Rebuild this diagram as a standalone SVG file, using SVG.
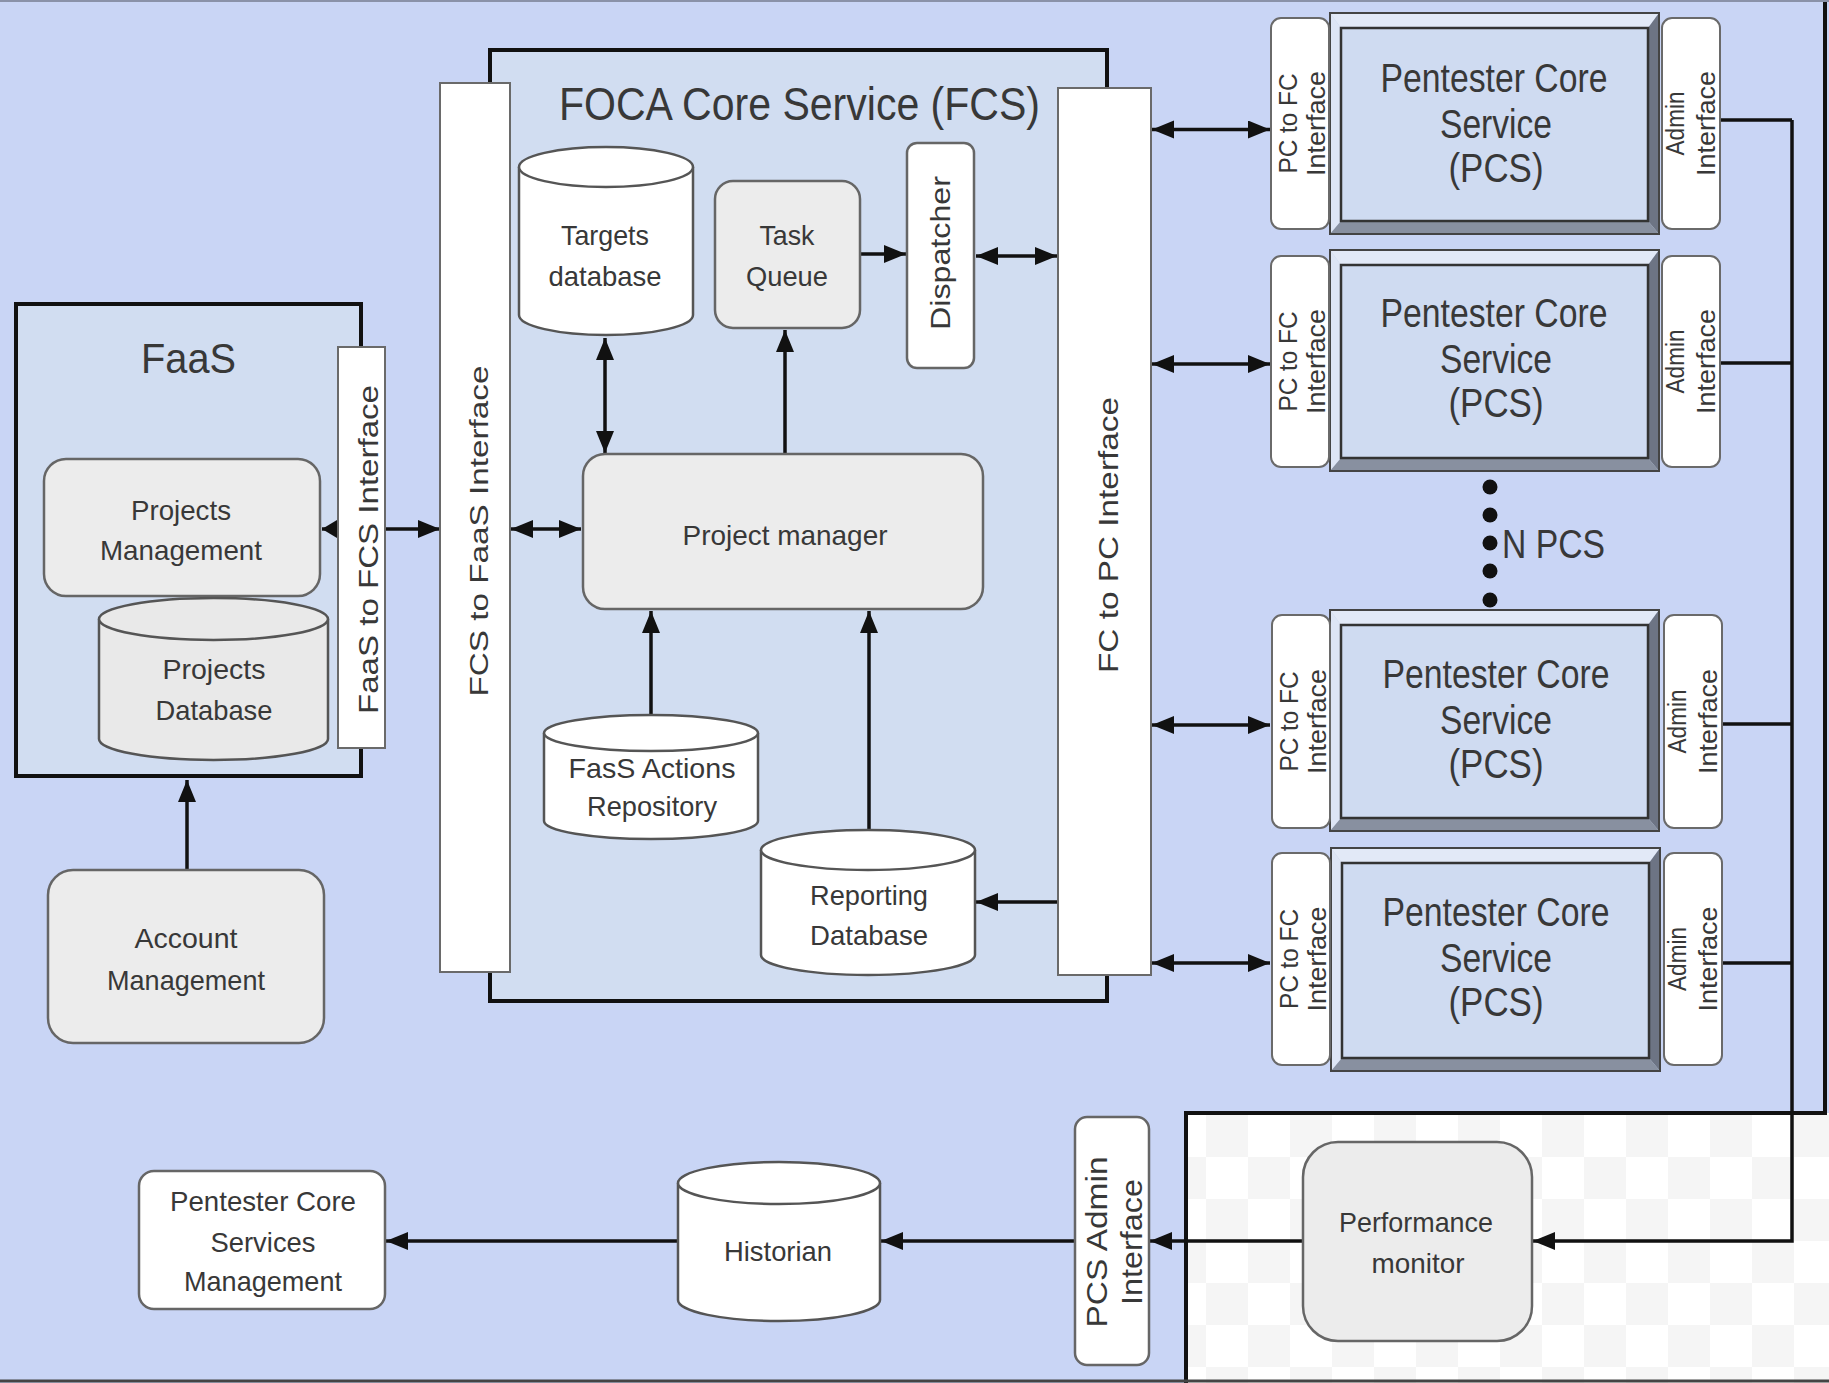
<svg xmlns="http://www.w3.org/2000/svg" width="1829" height="1383" viewBox="0 0 1829 1383">
<style>
text{font-family:"Liberation Sans",Arial,sans-serif;fill:#383838}
.t28{font-size:28px}
.tb{font-size:40px}
.ti{font-size:25px}
.ifc{fill:#fff;stroke:#6a6a6a;stroke-width:2}
.gbox{fill:#ececec;stroke:#666;stroke-width:2.5}
.wbox{fill:#fff;stroke:#666;stroke-width:2.5}
.cyl{stroke:#555;stroke-width:2.5}
.cont{fill:#d1ddf1;stroke:#111;stroke-width:4}
.ln{fill:none;stroke:#111;stroke-width:3.5}
.fr{fill:#c4d1ea;stroke:#444;stroke-width:2}
.inr{fill:#cfdbf1;stroke:#333;stroke-width:2.5}
</style>
<defs>
<marker id="ah" markerUnits="userSpaceOnUse" markerWidth="24" markerHeight="20" refX="22" refY="9" orient="auto-start-reverse" viewBox="0 0 24 20">
<path d="M0,0 L22,9 L0,18 z" fill="#111"/>
</marker>
<marker id="ahs" markerUnits="userSpaceOnUse" markerWidth="18" markerHeight="20" refX="15" refY="9" orient="auto" viewBox="0 0 18 20">
<path d="M0,0 L15,9 L0,18 z" fill="#111"/>
</marker>
<pattern id="chk" patternUnits="userSpaceOnUse" x="1206" y="1115" width="84" height="84">
<rect width="84" height="84" fill="#ffffff"/>
<rect width="42" height="42" fill="#f5f5f5"/>
<rect x="42" y="42" width="42" height="42" fill="#f5f5f5"/>
</pattern>
</defs>

<!-- background -->
<rect x="0" y="0" width="1829" height="1383" fill="#c9d5f5"/>
<rect x="1186" y="1113" width="643" height="270" fill="url(#chk)"/>
<path d="M1186,1383 V1113 H1825 V0" fill="none" stroke="#111" stroke-width="4"/>
<line x1="0" y1="1" x2="1829" y2="1" stroke="#8a92a8" stroke-width="2"/>
<line x1="0" y1="1381" x2="1829" y2="1381" stroke="#444" stroke-width="3"/>

<!-- containers -->
<g id="fcs">
<rect class="cont" x="490" y="50" width="617" height="951"/>
<text x="799.5" y="120" style="font-size:46px" text-anchor="middle" textLength="481" lengthAdjust="spacingAndGlyphs">FOCA Core Service (FCS)</text>
</g>
<g id="faas">
<rect class="cont" x="16" y="304" width="345" height="472"/>
<text x="188.5" y="373" style="font-size:43px" text-anchor="middle" textLength="95" lengthAdjust="spacingAndGlyphs">FaaS</text>
</g>

<!-- connectors -->
<g id="connectors">
<path class="ln" d="M187,869 V780" marker-end="url(#ah)"/>
<path class="ln" d="M385,529 H440" marker-end="url(#ah)"/>
<path class="ln" d="M339,529 H322" marker-end="url(#ahs)"/>
<path class="ln" d="M511,529 H581" marker-start="url(#ah)" marker-end="url(#ah)"/>
<path class="ln" d="M605,338 V453" marker-start="url(#ah)" marker-end="url(#ah)"/>
<path class="ln" d="M785,454 V330" marker-end="url(#ah)"/>
<path class="ln" d="M860,254 H906" marker-end="url(#ah)"/>
<path class="ln" d="M976,256 H1057" marker-start="url(#ah)" marker-end="url(#ah)"/>
<path class="ln" d="M651,715 V611" marker-end="url(#ah)"/>
<path class="ln" d="M869,830 V611" marker-end="url(#ah)"/>
<path class="ln" d="M1057,902 H976" marker-end="url(#ah)"/>
<path class="ln" d="M1152,129.5 H1270" marker-start="url(#ah)" marker-end="url(#ah)"/>
<path class="ln" d="M1152,364 H1270" marker-start="url(#ah)" marker-end="url(#ah)"/>
<path class="ln" d="M1152,725 H1270" marker-start="url(#ah)" marker-end="url(#ah)"/>
<path class="ln" d="M1152,963 H1270" marker-start="url(#ah)" marker-end="url(#ah)"/>
<path class="ln" d="M1720,120 H1792"/>
<path class="ln" d="M1720,363 H1792"/>
<path class="ln" d="M1720,724 H1792"/>
<path class="ln" d="M1720,963 H1792"/>
<path class="ln" d="M1792,120 V1241 H1533" marker-end="url(#ah)"/>
<path class="ln" d="M1303,1241 H1150" marker-end="url(#ah)"/>
<path class="ln" d="M1075,1241 H881" marker-end="url(#ah)"/>
<path class="ln" d="M678,1241 H386" marker-end="url(#ah)"/>
</g>

<!-- FaaS internals -->
<g id="faas-iface">
<rect class="ifc" x="338" y="347" width="47" height="401"/>
<text transform="translate(362,549.5) rotate(-90)" y="15.5" style="font-size:27px" text-anchor="middle" textLength="329" lengthAdjust="spacingAndGlyphs">FaaS to FCS Interface</text>
</g>
<g id="projects-mgmt">
<rect class="gbox" x="44" y="459" width="276" height="137" rx="22"/>
<text class="t28" x="181" y="520" text-anchor="middle" textLength="100" lengthAdjust="spacingAndGlyphs">Projects</text>
<text class="t28" x="181" y="560" text-anchor="middle" textLength="162" lengthAdjust="spacingAndGlyphs">Management</text>
</g>
<g id="projects-db">
<path class="cyl" fill="#e9e9e9" d="M99,619 V739 A114.5,21 0 0 0 328,739 V619"/>
<ellipse class="cyl" fill="#e9e9e9" cx="213.5" cy="619" rx="114.5" ry="21"/>
<text class="t28" x="214" y="679" text-anchor="middle" textLength="103" lengthAdjust="spacingAndGlyphs">Projects</text>
<text class="t28" x="214" y="720" text-anchor="middle" textLength="117" lengthAdjust="spacingAndGlyphs">Database</text>
</g>
<g id="account-mgmt">
<rect class="gbox" x="48" y="870" width="276" height="173" rx="25"/>
<text class="t28" x="186" y="948" text-anchor="middle" textLength="103" lengthAdjust="spacingAndGlyphs">Account</text>
<text class="t28" x="186" y="990" text-anchor="middle" textLength="158" lengthAdjust="spacingAndGlyphs">Management</text>
</g>

<!-- FCS internals -->
<g id="fcs-faas-iface">
<rect class="ifc" x="440" y="83" width="70" height="889"/>
<text transform="translate(475,531) rotate(-90)" y="13" style="font-size:26px" text-anchor="middle" textLength="331" lengthAdjust="spacingAndGlyphs">FCS to FaaS Interface</text>
</g>
<g id="fc-pc-iface">
<rect class="ifc" x="1058" y="88" width="93" height="887"/>
<text transform="translate(1104.5,535) rotate(-90)" y="13.5" style="font-size:28px" text-anchor="middle" textLength="276" lengthAdjust="spacingAndGlyphs">FC to PC Interface</text>
</g>
<g id="targets-db">
<path class="cyl" fill="#fff" d="M519,167 V315 A87,20 0 0 0 693,315 V167"/>
<ellipse class="cyl" fill="#fff" cx="606" cy="167" rx="87" ry="20"/>
<text class="t28" x="605" y="245" text-anchor="middle" textLength="88" lengthAdjust="spacingAndGlyphs">Targets</text>
<text class="t28" x="605" y="286" text-anchor="middle" textLength="113" lengthAdjust="spacingAndGlyphs">database</text>
</g>
<g id="task-queue">
<rect class="gbox" x="715" y="181" width="145" height="147" rx="18"/>
<text class="t28" x="787" y="245" text-anchor="middle" textLength="55" lengthAdjust="spacingAndGlyphs">Task</text>
<text class="t28" x="787" y="286" text-anchor="middle" textLength="82" lengthAdjust="spacingAndGlyphs">Queue</text>
</g>
<g id="dispatcher">
<rect class="wbox" x="907" y="143" width="67" height="225" rx="10"/>
<text transform="translate(940.5,253) rotate(-90)" y="9.5" class="t28" text-anchor="middle" textLength="154" lengthAdjust="spacingAndGlyphs">Dispatcher</text>
</g>
<g id="project-manager">
<rect class="gbox" x="583" y="454" width="400" height="155" rx="22"/>
<text class="t28" x="785" y="545" text-anchor="middle" textLength="205" lengthAdjust="spacingAndGlyphs">Project manager</text>
</g>
<g id="fass-actions-repo">
<path class="cyl" fill="#fff" d="M544,733 V821 A107,18 0 0 0 758,821 V733"/>
<ellipse class="cyl" fill="#fff" cx="651" cy="733" rx="107" ry="18"/>
<text class="t28" x="652" y="778" text-anchor="middle" textLength="167" lengthAdjust="spacingAndGlyphs">FasS Actions</text>
<text class="t28" x="652" y="816" text-anchor="middle" textLength="130" lengthAdjust="spacingAndGlyphs">Repository</text>
</g>
<g id="reporting-db">
<path class="cyl" fill="#fff" d="M761,850 V955 A107,20 0 0 0 975,955 V850"/>
<ellipse class="cyl" fill="#fff" cx="868" cy="850" rx="107" ry="20"/>
<text class="t28" x="869" y="905" text-anchor="middle" textLength="118" lengthAdjust="spacingAndGlyphs">Reporting</text>
<text class="t28" x="869" y="945" text-anchor="middle" textLength="118" lengthAdjust="spacingAndGlyphs">Database</text>
</g>

<!-- PCS blocks -->
<g id="pcs1" transform="translate(0,13)">
<rect class="fr" x="1330" y="0" width="329" height="221"/>
<polygon points="1330,0 1659,0 1648,15 1341,15" fill="#e2e9f7"/>
<polygon points="1330,0 1341,15 1341,208 1330,221" fill="#dde5f5"/>
<polygon points="1659,0 1659,221 1648,208 1648,15" fill="#6d7484"/>
<polygon points="1330,221 1659,221 1648,208 1341,208" fill="#8890a0"/>
<rect x="1330" y="0" width="329" height="221" fill="none" stroke="#444" stroke-width="2"/>
<rect class="inr" x="1341" y="15" width="307" height="193"/>
<text class="tb" x="1494" y="79" text-anchor="middle" textLength="227" lengthAdjust="spacingAndGlyphs">Pentester Core</text>
<text class="tb" x="1496" y="125" text-anchor="middle" textLength="112" lengthAdjust="spacingAndGlyphs">Service</text>
<text class="tb" x="1496" y="169" text-anchor="middle" textLength="95" lengthAdjust="spacingAndGlyphs">(PCS)</text>
<rect class="ifc" x="1271" y="5" width="58" height="211" rx="10"/>
<text class="ti" transform="translate(1300,110.5) rotate(-90)" text-anchor="middle"><tspan x="0" y="-3.5" textLength="100" lengthAdjust="spacingAndGlyphs">PC to FC</tspan><tspan x="0" y="24.5" textLength="105" lengthAdjust="spacingAndGlyphs">Interface</tspan></text>
<rect class="ifc" x="1662" y="5" width="58" height="211" rx="10"/>
<text class="ti" transform="translate(1691,110.5) rotate(-90)" text-anchor="middle"><tspan x="0" y="-7.5" textLength="64" lengthAdjust="spacingAndGlyphs">Admin</tspan><tspan x="0" y="24" textLength="105" lengthAdjust="spacingAndGlyphs">Interface</tspan></text>
</g>
<g id="pcs2" transform="translate(0,250)">
<rect class="fr" x="1330" y="0" width="329" height="221"/>
<polygon points="1330,0 1659,0 1648,15 1341,15" fill="#e2e9f7"/>
<polygon points="1330,0 1341,15 1341,208 1330,221" fill="#dde5f5"/>
<polygon points="1659,0 1659,221 1648,208 1648,15" fill="#6d7484"/>
<polygon points="1330,221 1659,221 1648,208 1341,208" fill="#8890a0"/>
<rect x="1330" y="0" width="329" height="221" fill="none" stroke="#444" stroke-width="2"/>
<rect class="inr" x="1341" y="15" width="307" height="193"/>
<text class="tb" x="1494" y="77" text-anchor="middle" textLength="227" lengthAdjust="spacingAndGlyphs">Pentester Core</text>
<text class="tb" x="1496" y="123" text-anchor="middle" textLength="112" lengthAdjust="spacingAndGlyphs">Service</text>
<text class="tb" x="1496" y="167" text-anchor="middle" textLength="95" lengthAdjust="spacingAndGlyphs">(PCS)</text>
<rect class="ifc" x="1271" y="6" width="58" height="211" rx="10"/>
<text class="ti" transform="translate(1300,111.5) rotate(-90)" text-anchor="middle"><tspan x="0" y="-3.5" textLength="100" lengthAdjust="spacingAndGlyphs">PC to FC</tspan><tspan x="0" y="24.5" textLength="105" lengthAdjust="spacingAndGlyphs">Interface</tspan></text>
<rect class="ifc" x="1662" y="6" width="58" height="211" rx="10"/>
<text class="ti" transform="translate(1691,111.5) rotate(-90)" text-anchor="middle"><tspan x="0" y="-7.5" textLength="64" lengthAdjust="spacingAndGlyphs">Admin</tspan><tspan x="0" y="24" textLength="105" lengthAdjust="spacingAndGlyphs">Interface</tspan></text>
</g>
<g id="n-pcs">
<circle cx="1490" cy="487" r="7.5" fill="#111"/>
<circle cx="1490" cy="515" r="7.5" fill="#111"/>
<circle cx="1490" cy="543" r="7.5" fill="#111"/>
<circle cx="1490" cy="571" r="7.5" fill="#111"/>
<circle cx="1490" cy="600" r="7.5" fill="#111"/>
<text x="1502" y="558" style="font-size:40px" textLength="103" lengthAdjust="spacingAndGlyphs">N PCS</text>
</g>
<g id="pcs3" transform="translate(0,610)">
<rect class="fr" x="1330" y="0" width="329" height="221"/>
<polygon points="1330,0 1659,0 1648,15 1341,15" fill="#e2e9f7"/>
<polygon points="1330,0 1341,15 1341,208 1330,221" fill="#dde5f5"/>
<polygon points="1659,0 1659,221 1648,208 1648,15" fill="#6d7484"/>
<polygon points="1330,221 1659,221 1648,208 1341,208" fill="#8890a0"/>
<rect x="1330" y="0" width="329" height="221" fill="none" stroke="#444" stroke-width="2"/>
<rect class="inr" x="1341" y="15" width="307" height="193"/>
<text class="tb" x="1496" y="78" text-anchor="middle" textLength="227" lengthAdjust="spacingAndGlyphs">Pentester Core</text>
<text class="tb" x="1496" y="124" text-anchor="middle" textLength="112" lengthAdjust="spacingAndGlyphs">Service</text>
<text class="tb" x="1496" y="168" text-anchor="middle" textLength="95" lengthAdjust="spacingAndGlyphs">(PCS)</text>
<rect class="ifc" x="1272" y="5" width="58" height="213" rx="10"/>
<text class="ti" transform="translate(1301,111.5) rotate(-90)" text-anchor="middle"><tspan x="0" y="-3.5" textLength="100" lengthAdjust="spacingAndGlyphs">PC to FC</tspan><tspan x="0" y="24.5" textLength="105" lengthAdjust="spacingAndGlyphs">Interface</tspan></text>
<rect class="ifc" x="1664" y="5" width="58" height="213" rx="10"/>
<text class="ti" transform="translate(1693,111.5) rotate(-90)" text-anchor="middle"><tspan x="0" y="-7.5" textLength="64" lengthAdjust="spacingAndGlyphs">Admin</tspan><tspan x="0" y="24" textLength="105" lengthAdjust="spacingAndGlyphs">Interface</tspan></text>
</g>
<g id="pcs4" transform="translate(0,848)">
<rect class="fr" x="1331" y="0" width="329" height="223"/>
<polygon points="1331,0 1660,0 1649,15 1342,15" fill="#e2e9f7"/>
<polygon points="1331,0 1342,15 1342,210 1331,223" fill="#dde5f5"/>
<polygon points="1660,0 1660,223 1649,210 1649,15" fill="#6d7484"/>
<polygon points="1331,223 1660,223 1649,210 1342,210" fill="#8890a0"/>
<rect x="1331" y="0" width="329" height="223" fill="none" stroke="#444" stroke-width="2"/>
<rect class="inr" x="1342" y="15" width="307" height="195"/>
<text class="tb" x="1496" y="78" text-anchor="middle" textLength="227" lengthAdjust="spacingAndGlyphs">Pentester Core</text>
<text class="tb" x="1496" y="124" text-anchor="middle" textLength="112" lengthAdjust="spacingAndGlyphs">Service</text>
<text class="tb" x="1496" y="168" text-anchor="middle" textLength="95" lengthAdjust="spacingAndGlyphs">(PCS)</text>
<rect class="ifc" x="1272" y="5" width="58" height="212" rx="10"/>
<text class="ti" transform="translate(1301,111) rotate(-90)" text-anchor="middle"><tspan x="0" y="-3.5" textLength="100" lengthAdjust="spacingAndGlyphs">PC to FC</tspan><tspan x="0" y="24.5" textLength="105" lengthAdjust="spacingAndGlyphs">Interface</tspan></text>
<rect class="ifc" x="1664" y="5" width="58" height="212" rx="10"/>
<text class="ti" transform="translate(1693,111) rotate(-90)" text-anchor="middle"><tspan x="0" y="-7.5" textLength="64" lengthAdjust="spacingAndGlyphs">Admin</tspan><tspan x="0" y="24" textLength="105" lengthAdjust="spacingAndGlyphs">Interface</tspan></text>
</g>

<!-- bottom row -->
<g id="performance-monitor">
<rect class="gbox" x="1303" y="1142" width="229" height="199" rx="35"/>
<text class="t28" x="1416" y="1232" text-anchor="middle" textLength="154" lengthAdjust="spacingAndGlyphs">Performance</text>
<text class="t28" x="1418" y="1273" text-anchor="middle" textLength="93" lengthAdjust="spacingAndGlyphs">monitor</text>
</g>
<g id="pcs-admin-iface">
<rect class="wbox" x="1075" y="1117" width="74" height="248" rx="12"/>
<text transform="translate(1112,1242) rotate(-90)" style="font-size:30px" text-anchor="middle"><tspan x="0" y="-5" textLength="171" lengthAdjust="spacingAndGlyphs">PCS Admin</tspan><tspan x="0" y="30" textLength="126" lengthAdjust="spacingAndGlyphs">Interface</tspan></text>
</g>
<g id="historian">
<path class="cyl" fill="#fff" d="M678,1183 V1300 A101,21 0 0 0 880,1300 V1183"/>
<ellipse class="cyl" fill="#fff" cx="779" cy="1183" rx="101" ry="21"/>
<text class="t28" x="778" y="1261" text-anchor="middle" textLength="108" lengthAdjust="spacingAndGlyphs">Historian</text>
</g>
<g id="pcs-management">
<rect class="wbox" x="139" y="1171" width="246" height="138" rx="15"/>
<text class="t28" x="263" y="1211" text-anchor="middle" textLength="186" lengthAdjust="spacingAndGlyphs">Pentester Core</text>
<text class="t28" x="263" y="1252" text-anchor="middle" textLength="105" lengthAdjust="spacingAndGlyphs">Services</text>
<text class="t28" x="263" y="1291" text-anchor="middle" textLength="158" lengthAdjust="spacingAndGlyphs">Management</text>
</g>
</svg>
